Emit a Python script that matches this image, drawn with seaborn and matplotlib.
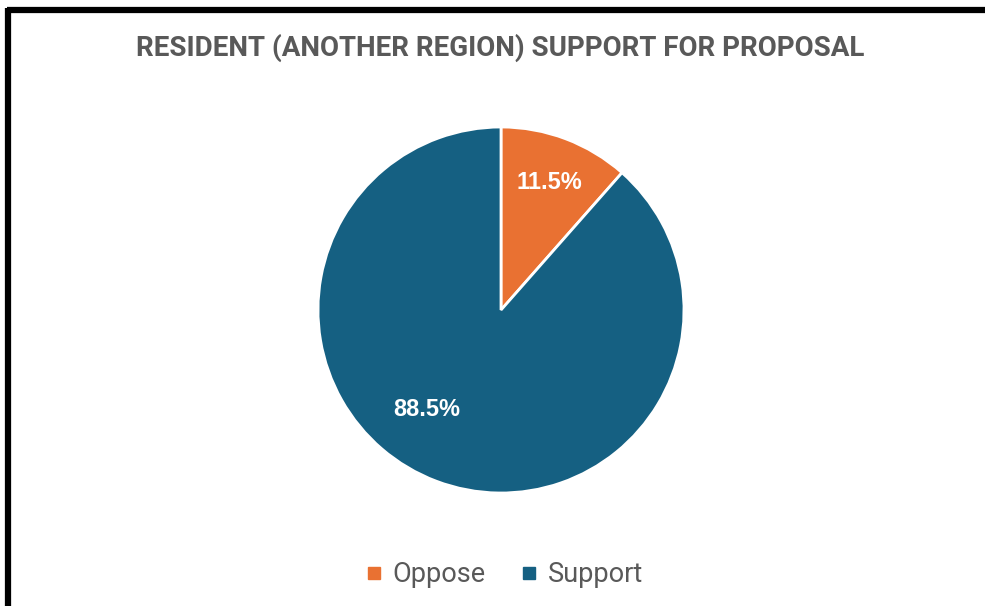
import matplotlib
matplotlib.use("Agg")
import matplotlib.pyplot as plt
from matplotlib.lines import Line2D
import seaborn as sns

categories = ["Oppose", "Support"]
shares = [11.5, 88.5]
colors = ["#E97132", "#156082"]
title = "RESIDENT (ANOTHER REGION) SUPPORT FOR PROPOSAL"

sns.set_theme(style="white")
plt.rcParams["font.family"] = ["Roboto", "DejaVu Sans"]

W, H = 985, 606
fig = plt.figure(figsize=(W / 100, H / 100), dpi=100)
fig.patch.set_facecolor("white")

# pie axes: centre (501, 310), radius 183 px
r = 183
cx, cy = 501, 310
ax = fig.add_axes([(cx - r) / W, 1 - (cy + r) / H, 2 * r / W, 2 * r / H])
wedges, texts, autotexts = ax.pie(
    shares,
    colors=colors,
    startangle=90,
    counterclock=False,
    radius=1,
    autopct=lambda p: f"{p:.1f}%",
    pctdistance=0.745,
    wedgeprops=dict(edgecolor="white", linewidth=2),
    textprops=dict(color="white", fontsize=17, fontweight="bold", family=["Liberation Sans", "DejaVu Sans"]),
)
autotexts[1].set_position((-0.404, -0.546))
ax.set_xlim(-1, 1)
ax.set_ylim(-1, 1)
ax.set_aspect("equal")
ax.axis("off")

fig.text(0.5075, 1 - 48 / H, title, ha="center", va="center",
         fontsize=20, fontweight="bold", color="#595959")

handles = [Line2D([0], [0], marker="s", linestyle="none", markersize=9,
                  markerfacecolor=c, markeredgecolor=c) for c in colors]
fig.legend(handles, categories, loc="center", bbox_to_anchor=(0.508, 1 - 575 / H),
           ncol=2, frameon=False, fontsize=19.5, handletextpad=0.1, columnspacing=1.0,
           handlelength=1.2, labelcolor="#595959")

# black frame along top and left edge
fig.add_artist(Line2D([7 / W, 1.0], [1 - 10 / H, 1 - 10 / H], color="black", linewidth=4.5,
                      transform=fig.transFigure, solid_capstyle="butt"))
fig.add_artist(Line2D([7.5 / W, 7.5 / W], [0, 1 - 8 / H], color="black", linewidth=4.5,
                      transform=fig.transFigure, solid_capstyle="butt"))

fig.savefig("out.png", dpi=100, facecolor="white")
